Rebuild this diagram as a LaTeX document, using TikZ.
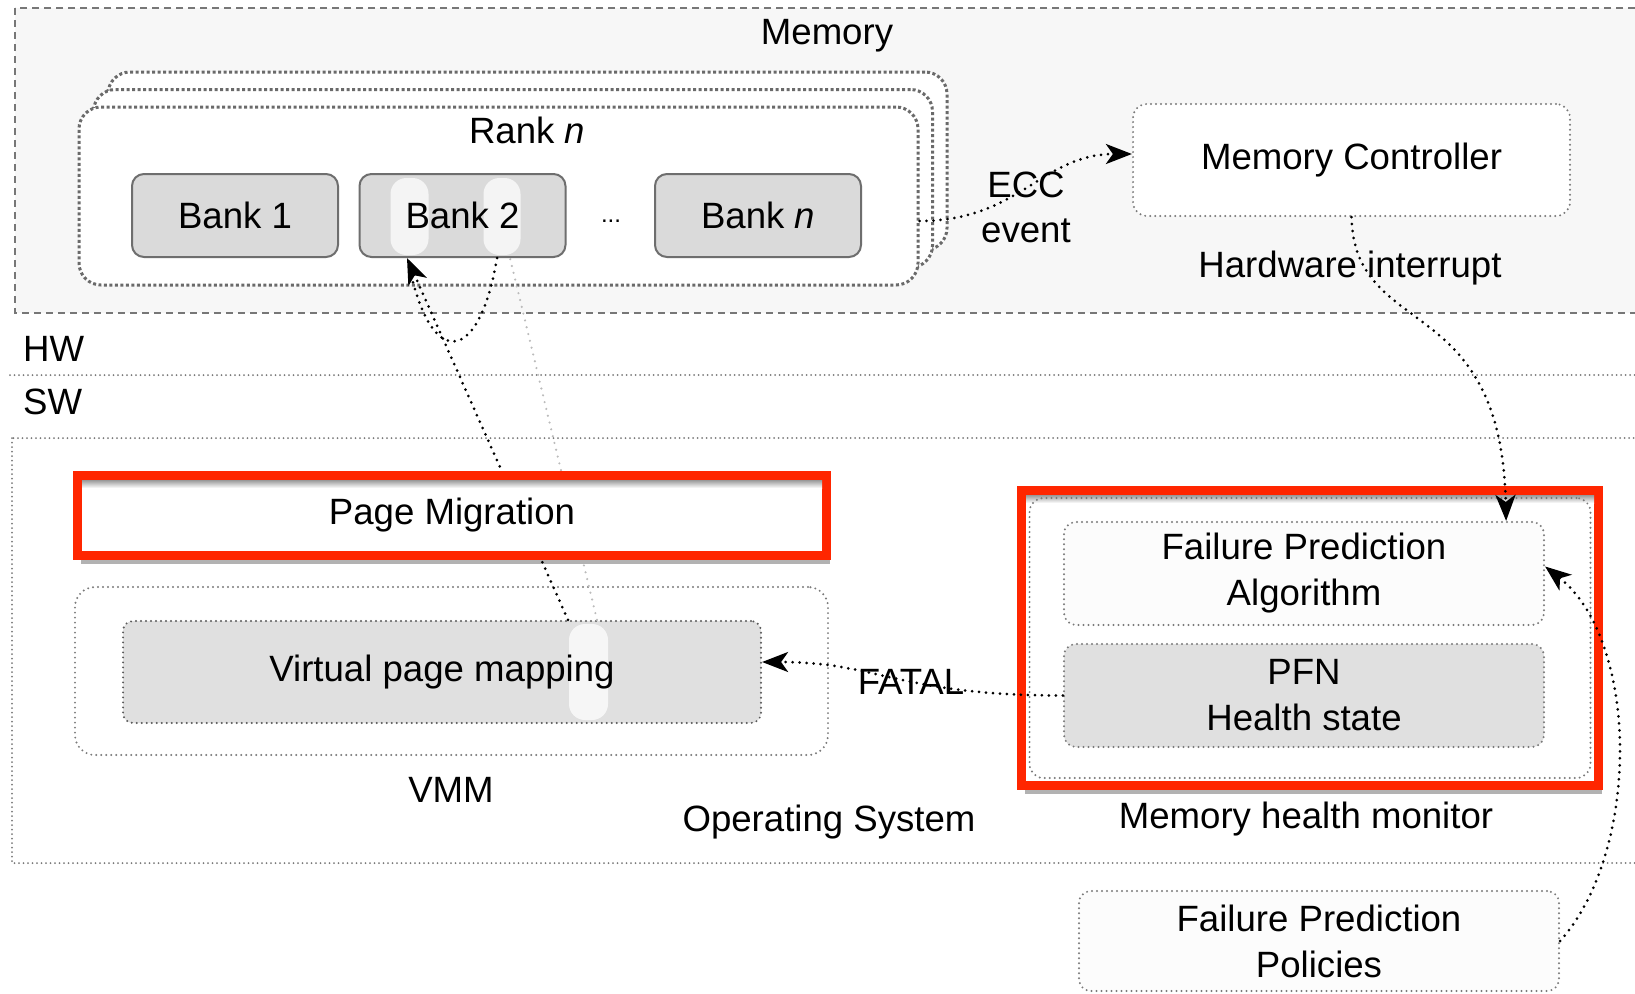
\documentclass[tikz,border=0pt]{standalone}
\usepackage{fontspec}
\setmainfont{Liberation Sans}
\usetikzlibrary{arrows.meta,shadows}

\definecolor{memfill}{HTML}{F7F7F7}
\definecolor{memedge}{HTML}{777777}
\definecolor{rankgray}{HTML}{6A6A6A}
\definecolor{bankfill}{HTML}{DADADA}
\definecolor{bankedge}{HTML}{6E6E6E}
\definecolor{dotgray}{HTML}{7A7A7A}
\definecolor{darkdot}{HTML}{5A5A5A}
\definecolor{vpmfill}{HTML}{E0E0E0}
\definecolor{palefill}{HTML}{FCFCFC}
\definecolor{alertred}{RGB}{255,38,0}
\definecolor{lightline}{HTML}{BBBBBB}

\tikzset{
  lbl/.style={inner sep=0pt, anchor=base},
  rankbox/.style={draw=rankgray, fill=white, line width=3pt,
    dash pattern=on 3pt off 2.5pt, rounded corners=22pt,
    minimum width=839pt, minimum height=178pt, inner sep=0pt},
  bankbox/.style={draw=bankedge, fill=bankfill, line width=2pt,
    rounded corners=12pt, minimum width=206pt, minimum height=83pt, inner sep=0pt},
  softbox/.style={draw=dotgray, line width=2.2pt, dash pattern=on 0pt off 5pt,
    line cap=round, rounded corners=12pt, inner sep=0pt, align=center},
  alertbox/.style={draw=alertred, line width=9pt, fill=white, inner sep=0pt,
    drop shadow={shadow xshift=3pt, shadow yshift=-8pt, opacity=0.3, fill=black}},
  innershade/.style={top color=black!40, bottom color=white},
  pill/.style={fill=white, fill opacity=0.72, rounded corners=16pt},
  dotline/.style={draw=black, line width=3pt, dash pattern=on 0pt off 7pt, line cap=round},
  flow/.style={dotline, arrows={-Stealth[length=26pt,width=20pt,inset=7pt]}},
  fineline/.style={draw=dotgray, line width=2pt, dash pattern=on 0pt off 4.5pt, line cap=round},
}

\begin{document}
\begin{tikzpicture}[x=1pt,y=-1pt,font=\fontsize{36.6}{46}\selectfont]
\useasboundingbox (0,0) rectangle (1635,993);

% hardware area
\draw[draw=memedge, fill=memfill, line width=2pt, dash pattern=on 7pt off 5pt]
  (15,8) rectangle (1660,313);
% software area and the HW/SW boundary
\draw[fineline] (12,438) rectangle (1660,863);
\draw[fineline] (10,375) -- (1660,375);

% stacked ranks
\node[rankbox] (rank2) at (527.5,161) {};
\node[rankbox] (rank1) at (513,178.5) {};
\node[rankbox] (rank0) at (498.5,196) {};

% banks
\node[bankbox] (bank1) at (235,215.5) {Bank 1};
\node[bankbox, path picture={
    \fill[pill] ([xshift=31pt,yshift=-4pt]path picture bounding box.north west)
      rectangle ([xshift=69pt,yshift=2pt]path picture bounding box.south west);
    \fill[pill] ([xshift=124pt,yshift=-4pt]path picture bounding box.north west)
      rectangle ([xshift=161pt,yshift=2pt]path picture bounding box.south west);
  }] (bank2) at (462.5,215.5) {Bank 2};
\node[bankbox] (bankn) at (758,215.5) {Bank \textit{n}};
\node[lbl, font=\fontsize{24}{28}\selectfont] (gap) at (611,222) {...};

\node[lbl] (ranklbl) at (527,143) {Rank \textit{n}};
\node[lbl] (memlbl) at (827,44) {Memory};

% memory controller
\node[softbox, fill=white, minimum width=437pt, minimum height=112pt, rounded corners=14pt]
  (mc) at (1351.5,160) {Memory Controller};
\node[lbl] (hwint) at (1350,277) {Hardware interrupt};

\node[lbl, anchor=base west] (hw) at (23,361) {HW};
\node[lbl, anchor=base west] (sw) at (23,414) {SW};

% virtual memory manager
\node[softbox, minimum width=753pt, minimum height=168pt, rounded corners=20pt]
  (vmm) at (451.5,671) {};
\node[softbox, draw=darkdot, fill=vpmfill, minimum width=638pt, minimum height=102pt,
  rounded corners=10pt, path picture={
    \fill[pill] ([xshift=446pt,yshift=-3pt]path picture bounding box.north west)
      rectangle ([xshift=485pt,yshift=3pt]path picture bounding box.south west);
  }] (vpm) at (442,672) {Virtual page mapping};
\node[lbl] (vmmlbl) at (451,802) {VMM};

% migration paths between the mapping and the banks
\draw[dotline, draw=lightline, line width=2.4pt] ([xshift=155pt]vpm.north) -- ([xshift=47.5pt]bank2.south);
\draw[dotline] ([xshift=34.5pt]bank2.south) .. controls +(-17,103) and +(23,100)
  .. ([xshift=-52pt,yshift=-14pt]bank2.south);
\draw[flow] ([xshift=126pt]vpm.north) -- ([xshift=-55.5pt]bank2.south);

% page migration (anchors sit on the outer edge of the 9pt border)
\node[alertbox, minimum width=749pt, minimum height=80pt] (pm) at (452,515.5) {};
\shade[innershade] ([xshift=9pt,yshift=-9pt]pm.north west) rectangle ([xshift=-9pt,yshift=-17pt]pm.north east);
\node[inner sep=0pt] (pmtext) at (pm.center) {Page Migration};

% memory health monitor
\node[alertbox, minimum width=577pt, minimum height=295pt] (mhmred) at (1310,638) {};
\shade[innershade] ([xshift=9pt,yshift=-9pt]mhmred.north west) rectangle ([xshift=-9pt,yshift=-17pt]mhmred.north east);
\node[softbox, minimum width=561pt, minimum height=280pt, rounded corners=14pt]
  (mhm) at (1310,638) {};
\node[softbox, fill=palefill, minimum width=480pt, minimum height=103pt]
  (fpa) at (1304,573.5) {Failure Prediction\\Algorithm};
\node[softbox, fill=vpmfill, minimum width=480pt, minimum height=103pt]
  (pfn) at (1304,695.5) {PFN\\Health state};
\node[lbl] (mhmlbl) at (1306,828) {Memory health monitor};

\node[lbl] (oslbl) at (829,831) {Operating System};

% policies
\node[softbox, fill=palefill, minimum width=480pt, minimum height=100pt]
  (fpp) at (1319,941) {Failure Prediction\\Policies};

% event flow
\draw[flow] ([yshift=-25pt]rank0.east) .. controls +(100,0) and +(-90,0) .. ([yshift=6pt]mc.west);
\node[align=center, inner sep=0pt, font=\fontsize{36.6}{45}\selectfont] (ecc) at (1026,207) {ECC\\event};

\draw[flow] (mc.south) .. controls +(3.5,124) and +(-5,-232) .. ([xshift=-39pt]fpa.north east);

\draw[flow] (pfn.west) .. controls +(-164,0) and +(116,0) .. ([yshift=10pt]vpm.east);
\node[lbl] (fatal) at (911,694) {FATAL};

\draw[flow] (fpp.east) .. controls +(81,-91) and +(94,74) .. ([yshift=7pt]fpa.east);

\end{tikzpicture}
\end{document}
